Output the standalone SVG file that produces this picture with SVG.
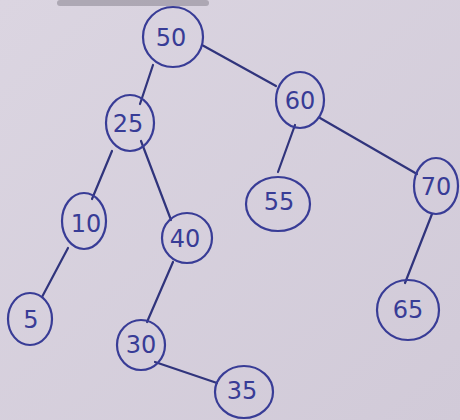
<svg xmlns="http://www.w3.org/2000/svg" width="460" height="420" viewBox="0 0 460 420">
  <defs>
    <linearGradient id="bg" x1="0" y1="0" x2="1" y2="1">
      <stop offset="0" stop-color="#dbd5e1"/>
      <stop offset="1" stop-color="#d1cad8"/>
    </linearGradient>
    <style>
      .n ellipse { fill: none; stroke: #383c96; stroke-width: 2.2; }
      .n text { font-family: "DejaVu Sans", "Liberation Sans", sans-serif; font-size: 24px; fill: #383c96; text-anchor: middle; dominant-baseline: central; }
      .e line { stroke: #30347c; stroke-width: 2.2; stroke-linecap: round; }
    </style>
  </defs>
  <rect width="460" height="420" fill="url(#bg)"/>
  <rect x="57" y="0" width="152" height="6" rx="3" fill="#8f8b96" opacity="0.6"/>

  <g id="edges" class="e">
    <line x1="153" y1="65" x2="140" y2="104"/>
    <line x1="202" y1="45" x2="276" y2="86"/>
    <line x1="112" y1="151" x2="92" y2="199"/>
    <line x1="141" y1="141" x2="171" y2="220"/>
    <line x1="295" y1="125" x2="278" y2="172"/>
    <line x1="320" y1="118" x2="417" y2="174"/>
    <line x1="68" y1="248" x2="42" y2="297"/>
    <line x1="173" y1="262" x2="147" y2="322"/>
    <line x1="155" y1="362" x2="217" y2="383"/>
    <line x1="432" y1="214" x2="405" y2="283"/>
  </g>

  <g id="n50" class="n"><ellipse cx="173" cy="37" rx="30" ry="30"/><text x="171" y="38">50</text></g>
  <g id="n60" class="n"><ellipse cx="300" cy="100" rx="24" ry="28"/><text x="300" y="101">60</text></g>
  <g id="n25" class="n"><ellipse cx="130" cy="123" rx="24" ry="28"/><text x="128" y="124">25</text></g>
  <g id="n55" class="n"><ellipse cx="278" cy="204" rx="32" ry="27"/><text x="279" y="202">55</text></g>
  <g id="n70" class="n"><ellipse cx="436" cy="186" rx="22" ry="28"/><text x="436" y="187">70</text></g>
  <g id="n10" class="n"><ellipse cx="84" cy="221" rx="22" ry="28"/><text x="86" y="224">10</text></g>
  <g id="n40" class="n"><ellipse cx="187" cy="238" rx="25" ry="25"/><text x="185" y="239">40</text></g>
  <g id="n5" class="n"><ellipse cx="30" cy="319" rx="22" ry="26"/><text x="31" y="320">5</text></g>
  <g id="n30" class="n"><ellipse cx="141" cy="345" rx="24" ry="25"/><text x="141" y="345">30</text></g>
  <g id="n35" class="n"><ellipse cx="244" cy="392" rx="29" ry="26"/><text x="242" y="391">35</text></g>
  <g id="n65" class="n"><ellipse cx="408" cy="310" rx="31" ry="30"/><text x="408" y="310">65</text></g>
</svg>
